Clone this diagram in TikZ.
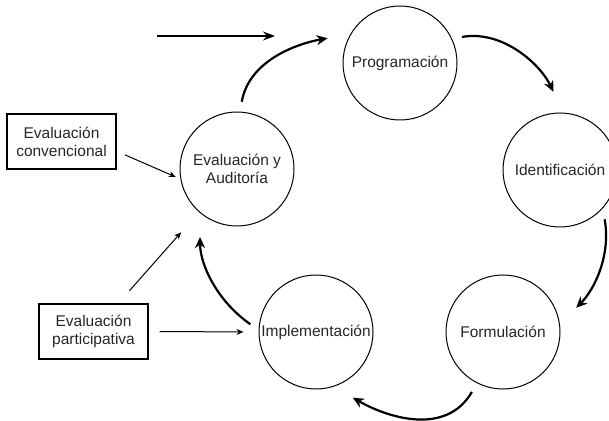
\documentclass[tikz,border=0pt]{standalone}
\usepackage{fontspec}
\setmainfont{Liberation Sans}
\usetikzlibrary{arrows.meta}
\tikzset{>={Stealth[length=11pt,width=10pt]},font=\fontsize{15.5}{18}\selectfont}
\tikzset{phase/.style={circle,draw,line width=1pt,minimum size=114pt,inner sep=0.5pt,align=center,text=black!85},
  source/.style={draw,line width=1.2pt,minimum width=109pt,minimum height=55pt,align=center,text=black!85},
  cyc/.style={->,line width=2.2pt},
  feed/.style={-{Stealth[length=7pt,width=6pt]},line width=1pt}}

\begin{document}
\begin{tikzpicture}[x=1pt,y=1pt]
\useasboundingbox (0,0) rectangle (609,420);
% phases of the cycle
\node[phase] (P) at (400,357) {Programación};
\node[phase] (I) at (560,250) {Identificación};
\node[phase] (F) at (503,88) {Formulación};
\node[phase] (M) at (316,88) {Implementación};
\node[phase] (E) at (237,251) {Evaluación y\\Auditoría};
% evaluation types
\node[source] (C) at (61.5,278.5) {Evaluación\\convencional};
\node[source] (Q) at (93.5,88.5) {Evaluación\\participativa};
\coordinate (S0) at (157,384);
\coordinate (S1) at (275,384);
\draw[->,line width=1.5pt,>={Stealth[length=12pt,width=9pt]}] (S0) -- (S1);
% cycle
\draw[cyc,shorten <=10pt,shorten >=23pt] (E.87) to[out=80,in=190] (P.150);
\draw[cyc,shorten <=10pt,shorten >=23pt] (P.25) to[out=10,in=115] (I.87);
\draw[cyc,shorten <=11pt,shorten >=23pt] (I.-42) to[out=-80,in=45] (F.8);
\draw[cyc,shorten <=10pt,shorten >=22pt] (F.243) to[out=240,in=-30,looseness=1.1] (M.-72);
\draw[cyc,shorten <=10pt,shorten >=24pt] (M.178) to[out=145,in=-90] (E.230);
% inputs
\draw[feed,shorten <=9pt,shorten >=5pt] (C.-10) -- (E.190);
\draw[feed,shorten <=11pt,shorten >=15pt] (Q.east) -- (M.west);
\draw[feed,shorten <=17pt,shorten >=27pt] (Q) -- (E);
\end{tikzpicture}
\end{document}
